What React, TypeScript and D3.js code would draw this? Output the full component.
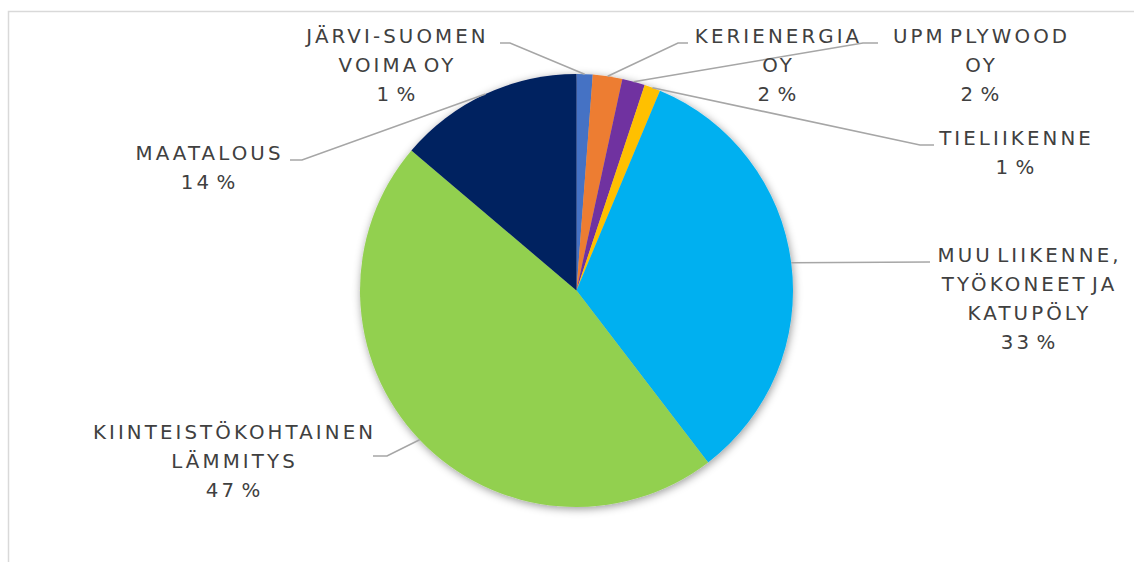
import * as d3 from "d3";
import { useRef, useEffect } from "react";

// päästölähteet (pienhiukkaset), osuudet prosentteina
const sources = [
    "JÄRVI-SUOMEN VOIMA OY",
    "KERIENERGIA OY",
    "UPM PLYWOOD OY",
    "TIELIIKENNE",
    "MUU LIIKENNE, TYÖKONEET JA KATUPÖLY",
    "KIINTEISTÖKOHTAINEN LÄMMITYS",
    "MAATALOUS",
];
const shares = [1.2, 2.2, 1.7, 1.2, 33.3, 46.6, 13.8];
const colors = ["#4472C4", "#ED7D31", "#7030A0", "#FFC000", "#00B0F0", "#92D050", "#002060"];

// label text split into lines as in the original
const labelLines = [
    ["JÄRVI-SUOMEN", "VOIMA OY"],
    ["KERIENERGIA", "OY"],
    ["UPM PLYWOOD", "OY"],
    ["TIELIIKENNE"],
    ["MUU LIIKENNE,", "TYÖKONEET JA", "KATUPÖLY"],
    ["KIINTEISTÖKOHTAINEN", "LÄMMITYS"],
    ["MAATALOUS"],
];

// label layout: text center, first baseline, leader elbow and end
const labelLayout = [
    { x: 396, y: 43, ex: 510, ey: 43, tx: 500, ty: 43 },
    { x: 777, y: 43, ex: 678, ey: 43, tx: 688, ty: 43 },
    { x: 980, y: 43, ex: 863, ey: 43, tx: 878, ty: 43 },
    { x: 1015, y: 145, ex: 920, ey: 145, tx: 934, ty: 145 },
    { x: 1028, y: 262, ex: 930, ey: 262, tx: 930, ty: 262 },
    { x: 233, y: 439, ex: 387, ey: 456, tx: 373, ty: 456 },
    { x: 208, y: 160, ex: 302, ey: 160, tx: 290, ty: 160 },
];

export default function App() {
    const ref = useRef<SVGSVGElement | null>(null);

    useEffect(() => {
        const svg = d3.select(ref.current);
        svg.selectAll("*").remove();

        const width = 1134;
        const height = 562;
        const cx = 576.5;
        const cy = 290.5;
        const r = 216.5;

        svg.attr("width", width).attr("height", height);

        svg.append("rect").attr("width", width).attr("height", height).attr("fill", "#fff");

        // chart frame (only top and left edges are in view)
        svg.append("path")
            .attr("d", `M8.5,562 L8.5,11.5 L1134,11.5`)
            .attr("fill", "none")
            .attr("stroke", "#d9d9d9")
            .attr("stroke-width", 1.5);

        const defs = svg.append("defs");
        const filter = defs.append("filter")
            .attr("id", "shadow")
            .attr("x", "-20%").attr("y", "-20%")
            .attr("width", "140%").attr("height", "140%");
        filter.append("feDropShadow")
            .attr("dx", 1).attr("dy", 2)
            .attr("stdDeviation", 4.5)
            .attr("flood-color", "#000")
            .attr("flood-opacity", 0.4);

        const data = sources.map((name, i) => ({ name, value: shares[i], i }));
        const pie = d3.pie<any>().sort(null).value((d) => d.value);
        const arcs = pie(data);
        const arc = d3.arc<any>().innerRadius(0).outerRadius(r);
        const edge = d3.arc<any>().innerRadius(r).outerRadius(r);

        const g = svg.append("g").attr("transform", `translate(${cx},${cy})`);
        g.append("g")
            .attr("filter", "url(#shadow)")
            .selectAll("path")
            .data(arcs)
            .enter()
            .append("path")
            .attr("d", arc)
            .attr("fill", (d) => colors[d.data.i]);

        // leader lines
        svg.append("g")
            .selectAll("polyline")
            .data(arcs)
            .enter()
            .append("polyline")
            .attr("points", (d) => {
                const [mx, my] = edge.centroid(d);
                const l = labelLayout[d.data.i];
                return `${cx + mx},${cy + my} ${l.ex},${l.ey} ${l.tx},${l.ty}`;
            })
            .attr("fill", "none")
            .attr("stroke", "#a6a6a6")
            .attr("stroke-width", 1.6);

        // labels
        const ls = 3.1;
        arcs.forEach((d) => {
            const l = labelLayout[d.data.i];
            const lines = [...labelLines[d.data.i], `${Math.round(d.data.value)} %`];
            const t = svg.append("text")
                .attr("text-anchor", "middle")
                .attr("font-family", "DejaVu Sans, sans-serif")
                .attr("font-size", 19.8)
                .attr("letter-spacing", ls)
                .attr("word-spacing", -5)
                .attr("fill", "#404040");
            lines.forEach((line, k) => {
                t.append("tspan")
                    .attr("x", l.x + ls / 2)
                    .attr("y", l.y + k * 29)
                    .text(line);
            });
        });
    }, []);

    return <svg ref={ref} style={{ position: "absolute", left: 0, top: 0, display: "block" }}></svg>;
}
